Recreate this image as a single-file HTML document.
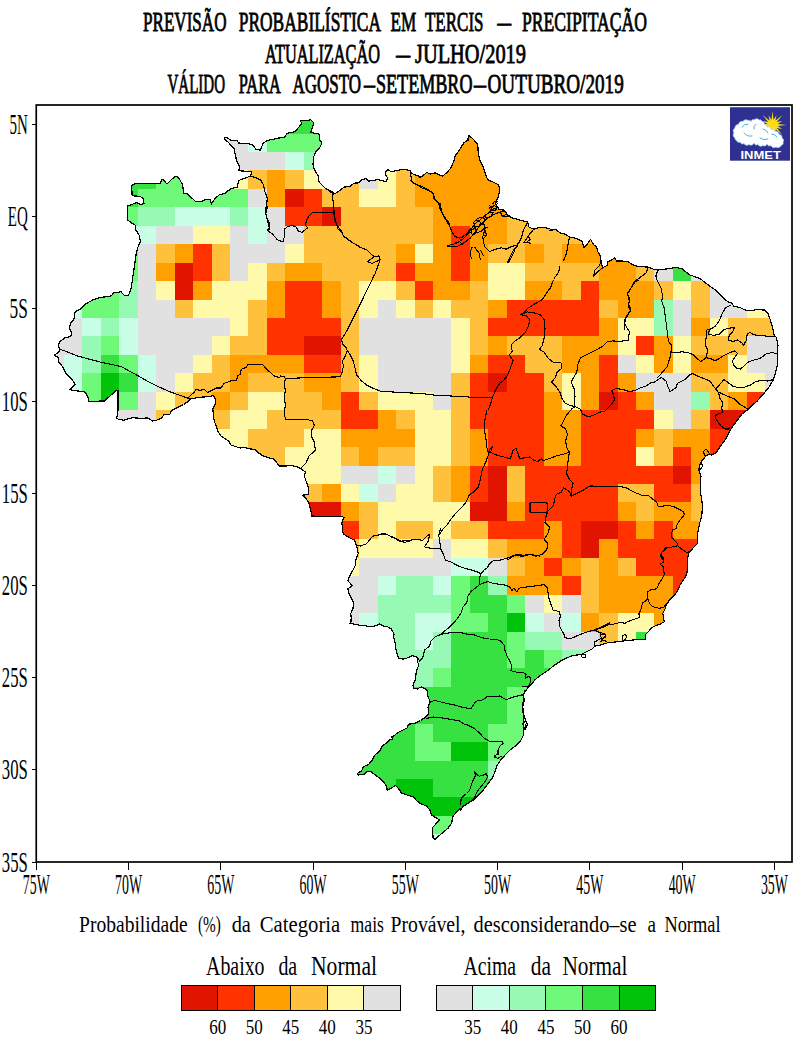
<!DOCTYPE html><html><head><meta charset="utf-8"><title>Previsão Probabilística em Tercis</title><style>html,body{margin:0;padding:0;background:#fff}</style></head><body><svg width="800" height="1046" viewBox="0 0 800 1046" style="display:block"><defs><clipPath id="br"><polygon points="118,410 118,390.2 115.8,390.8 104.5,401 88.8,401.3 88,397.2 85,392 70,389.8 75.2,384.2 72.2,380 66.2,374 62.5,366.5 58.8,362 58,357.5 54.2,355.2 58.8,352.2 60.2,349.2 58.3,346.2 59.5,341.8 64.8,338 70.8,336.5 71.5,332.8 69.2,328.2 70.8,323 73.8,319.2 75.2,311.8 81.2,308.8 85,304.2 93.2,299.8 100,297.5 111.2,296 113.5,293 121,291.8 124.8,296 128.5,295.2 130.8,290 132.2,281 134.3,267.1 136.3,253.2 138.4,245.6 140.5,241.5 139.1,235.2 135.7,229.7 135.7,225.5 132.2,223.4 127.3,219.9 127.3,206.1 132.9,204 137,202.6 141.2,204.7 144,203.3 143.3,198.4 139.8,196.4 132.2,195.7 131.5,185.3 135.7,183.6 160.6,183.6 161.3,179.7 163.4,180 166.9,183.9 175.2,176.2 178.7,177.6 182.8,185.3 183.5,193.6 187,193.6 196,201.9 202.2,201.2 206.4,199.1 210.6,199.8 211.3,204 214.7,199.1 218.9,195 224.4,193.6 230,189.4 230.5,188.8 237.2,187.2 238.8,180.5 244.8,178.2 250.8,176 251.5,171.5 238.8,170.8 239.5,166.2 236.5,160.2 235,153.5 234.2,149 228.2,142.2 224.5,139.2 224.5,137.8 227.5,137.8 230.5,140 237.2,140.8 238.8,143 248.5,143.8 252.2,144.5 256,149.3 260.5,150.2 262.8,143.8 266.5,140.8 273.2,139.2 280,137.8 284.5,137 287.5,133.2 295,131.8 301.8,123.5 300.2,120.2 306.2,120.5 310.8,119.8 313.8,122.8 312.2,128 310.8,132.5 319,134 319.8,140 322,143 319.8,147.5 316,151.2 313.8,156.5 313,164 314.5,170 318.2,176 319,182 325,188 331.8,191.8 332.5,193.2 330,191.8 332.7,191.2 333.3,194.2 336.8,192.7 340.5,190 344.2,187 349.5,186.7 354,183.2 359.2,182.8 361.5,179.5 366,178.8 368.2,181 372.8,180.7 378,179.5 382.5,180.7 386.2,181.8 387.8,177.7 385.2,175 385.5,172 387.8,169.8 391.5,171.7 396,170.8 402,169.3 406.5,169.8 410.2,170.5 411.8,173.5 415.5,175 420,176.5 420,177.8 423,175.5 426.8,172.5 430.5,174 435,172.8 438.8,174.8 442.5,176.2 447,172.5 450.8,168 453.8,161.2 455.2,156 459.8,149.2 464.2,142.5 468,140.2 468.3,135.4 471.8,137.7 475.5,141.8 477.8,144.8 478.2,153 480,160.5 483,166.5 485.2,173.2 486.8,177.8 488.2,180 493.5,182.2 498,184.5 499.5,187.5 500,190 498.5,196 495.5,203.5 499.2,209.5 504.5,210.2 507.5,214.8 512,217.8 519.5,220 527.8,222.2 528.5,226.8 533.8,229.3 539,227.5 545,227.5 551,229.3 550,230.2 556,229.5 560.5,233.2 565,234 569.5,237 574,237.8 577.8,239.2 582.2,241.5 583.8,247.5 587.5,243.8 590.5,239.2 593.5,244.5 596.5,246.8 598,252 600.2,255.8 601,261 602.5,267.8 607,265.5 607.8,261.8 612.2,259.5 614.5,258 616.8,261 622,261 628,261.8 634,265.5 640,266.7 647.5,267 653.5,269.2 658,270 664,269.2 670,268.5 670,268.8 674.5,267.2 682,268.8 689.5,274.8 700,278.5 707.5,284.5 715,289.8 721,295.8 727.8,301.8 731.5,302.5 733.8,306.2 740.5,307.8 745,310 751,310.8 756.2,309.7 764.5,310 768.2,313.8 770.5,320.5 772.8,328 774.2,335.5 776.5,337.5 778,345 777.2,354 777.7,363 775.8,372 773.5,379.5 769,387 763,394.5 757,401.2 751,406.5 748,409.5 742,414 737.5,420 733,426 729.2,432 725.5,439.5 725,440 720.5,446 716,452.8 711.5,455 708.5,454.2 705.5,456.5 701.8,461 699.5,464.8 698.8,470 701,476 700.2,482 700.2,491 701.8,500 702.5,507.5 701.8,515 699.5,524 697.7,533 697.2,539 698,540 697.2,543.8 693.5,547.5 689,552.8 687.5,558 687.5,567 686.8,574.5 683,580.5 680,585 677,591.8 674,595.5 669.5,600 666.5,604.5 665,609 662.8,613.5 663.5,618 664.2,621.8 660.5,624 656,625.5 651.5,627.8 648.5,631.5 645.5,634.5 645.5,639 641,639.8 635,639.8 627.5,640.5 621.5,641.2 615.5,642 608,642.8 610,642.2 604,643.8 600.2,645.2 595,646 592,649 586,652 581.5,654.2 577,655 571.8,655.8 566.5,658 562,660.2 557.5,663.2 553,666.2 548.5,670 544,673 539.5,676 535,679.8 532,683.5 528.2,687.2 525.2,691.8 523,695.5 523.8,700 522.2,706 523,712 523.8,718 523,724 523.8,730 523.6,730 523.5,735 520.5,741 516,745.5 510,750 505.5,754.5 501,759.8 497.2,765 495,771.8 492,778.5 487.5,784.5 483,790.5 478.5,795 474,799.5 468,803.2 463.5,806.2 460.5,810 460,808.8 456.2,812.5 452.5,817 451.8,823 448,828.2 443.5,832 439,835.8 435.2,839.5 433,838 432.7,827.5 436,823.8 439.8,820 436,817.8 431.5,814.8 430,810.2 426.2,805.8 420.2,803.5 416.5,800.5 413.5,796.8 407.5,795.2 401.5,793 398.5,788.5 395.5,785.5 391.8,787.8 387.2,790 386.5,786.2 383.5,781.8 377.5,776.5 371.5,772 367,771.2 364,774.2 358.8,775 357.2,773.5 362.5,770.5 363.2,766.8 368.5,764.5 372.2,760 375.2,754.8 379.8,751 382,746.5 386.5,742.8 389.5,739.8 392.5,739 391.8,736.8 393.5,736.2 398,732.5 402.5,730.2 407,728 408.5,724.2 414.5,723.5 420.5,720.5 425,717.5 428.8,713.8 428,707 430.2,701.8 428,696.5 427.2,690.5 424.2,688.2 421.2,686.8 417.5,689 413.8,688.2 413,685.2 415.2,680 416,674 417.5,668 419,665 417.5,662 418.2,659 416,656.8 412.2,655.7 408.5,657.5 404,659 398.8,658.7 397.2,653.8 395.8,648.5 395,642.5 393.5,636.5 394.2,634.2 391.2,629 387.5,626.8 383,626 379.2,623.8 377,625.2 372.5,626.8 366.5,626 359,625.2 353,623.8 350,623.8 350.8,623.2 351.2,618 350.8,613.5 353,608.2 353.8,603 351.5,598.5 349.2,594 347.8,588.8 352.2,585.8 347.8,580.5 350,575.2 353,570 355.2,565.5 356,559.5 358.2,553.5 357.5,549 356,544.5 354.5,540 350.8,538.5 347,536.2 343.2,534 342.5,528 341.8,522.8 344,517.5 341.8,516.3 335,516.3 327.5,516.8 320,516.3 311,516 312,515.8 310.5,509.5 309,503.5 306,498.2 302.2,495.2 308.2,494.5 308.2,487 306,481 304.5,476.5 305.2,472 301.5,469 297,466.8 291.8,465.7 285,466 279,466 276,461.5 273,458.5 268.5,457.8 262.5,455.5 258,452.5 255,449.5 249,448.8 244.5,447.2 240,448 235.5,446.5 231,445 228.8,441.2 230,442 225.5,439 221,436 218,431.5 216.5,427 214.2,421 213.5,415 212.8,409 215,404.5 215.8,400 213.5,395.5 209,396.7 203,397 197,397.8 191,398.8 188,401.5 183.5,404.5 177.5,407.5 171.5,410.5 170,414.2 164,414.2 161.8,418 156.5,420.2 152.8,421 147.5,418 140,418.3 132.5,417.7 128,418.8 123.5,420.2 118.2,419.2 116.8,418"/></clipPath></defs><rect width="800" height="1046" fill="#fff"/><g clip-path="url(#br)" shape-rendering="crispEdges"><rect x="248" y="78" width="111" height="19" fill="#37e141"/><rect x="193" y="97" width="55" height="18" fill="#e1e1e1"/><rect x="248" y="97" width="111" height="18" fill="#37e141"/><rect x="415" y="97" width="110" height="18" fill="#ffa000"/><rect x="193" y="115" width="55" height="19" fill="#e1e1e1"/><rect x="248" y="115" width="19" height="19" fill="#c8ffe6"/><rect x="267" y="115" width="92" height="19" fill="#37e141"/><rect x="359" y="115" width="56" height="19" fill="#ffc03c"/><rect x="415" y="115" width="110" height="19" fill="#ffa000"/><rect x="82" y="134" width="74" height="18" fill="#37e141"/><rect x="156" y="134" width="37" height="18" fill="#6efa78"/><rect x="193" y="134" width="55" height="18" fill="#e1e1e1"/><rect x="248" y="134" width="19" height="18" fill="#c8ffe6"/><rect x="267" y="134" width="92" height="18" fill="#6efa78"/><rect x="359" y="134" width="74" height="18" fill="#ffc03c"/><rect x="433" y="134" width="111" height="18" fill="#ffa000"/><rect x="82" y="152" width="74" height="18" fill="#37e141"/><rect x="156" y="152" width="56" height="18" fill="#6efa78"/><rect x="212" y="152" width="73" height="18" fill="#e1e1e1"/><rect x="285" y="152" width="19" height="18" fill="#c8ffe6"/><rect x="304" y="152" width="37" height="18" fill="#96fab4"/><rect x="341" y="152" width="18" height="18" fill="#ffc03c"/><rect x="359" y="152" width="19" height="18" fill="#e1e1e1"/><rect x="378" y="152" width="55" height="18" fill="#ffc03c"/><rect x="433" y="152" width="111" height="18" fill="#ffa000"/><rect x="82" y="170" width="74" height="19" fill="#37e141"/><rect x="156" y="170" width="74" height="19" fill="#6efa78"/><rect x="230" y="170" width="18" height="19" fill="#fffaaa"/><rect x="248" y="170" width="19" height="19" fill="#ffc03c"/><rect x="267" y="170" width="18" height="19" fill="#ffa000"/><rect x="285" y="170" width="19" height="19" fill="#ffc03c"/><rect x="304" y="170" width="37" height="19" fill="#fffaaa"/><rect x="341" y="170" width="18" height="19" fill="#ffc03c"/><rect x="359" y="170" width="19" height="19" fill="#e1e1e1"/><rect x="378" y="170" width="18" height="19" fill="#fffaaa"/><rect x="396" y="170" width="19" height="19" fill="#ffc03c"/><rect x="415" y="170" width="129" height="19" fill="#ffa000"/><rect x="544" y="170" width="18" height="19" fill="#ffc03c"/><rect x="82" y="189" width="56" height="18" fill="#37e141"/><rect x="138" y="189" width="110" height="18" fill="#6efa78"/><rect x="248" y="189" width="19" height="18" fill="#e1e1e1"/><rect x="267" y="189" width="18" height="18" fill="#ffa000"/><rect x="285" y="189" width="19" height="18" fill="#e11400"/><rect x="304" y="189" width="18" height="18" fill="#ff3200"/><rect x="322" y="189" width="37" height="18" fill="#ffc03c"/><rect x="359" y="189" width="37" height="18" fill="#fffaaa"/><rect x="396" y="189" width="19" height="18" fill="#ffc03c"/><rect x="415" y="189" width="110" height="18" fill="#ffa000"/><rect x="525" y="189" width="93" height="18" fill="#ffc03c"/><rect x="82" y="207" width="56" height="19" fill="#6efa78"/><rect x="138" y="207" width="37" height="19" fill="#96fab4"/><rect x="175" y="207" width="55" height="19" fill="#c8ffe6"/><rect x="230" y="207" width="18" height="19" fill="#96fab4"/><rect x="248" y="207" width="19" height="19" fill="#c8ffe6"/><rect x="267" y="207" width="18" height="19" fill="#e1e1e1"/><rect x="285" y="207" width="37" height="19" fill="#ff3200"/><rect x="322" y="207" width="19" height="19" fill="#e11400"/><rect x="341" y="207" width="92" height="19" fill="#ffc03c"/><rect x="433" y="207" width="74" height="19" fill="#ffa000"/><rect x="507" y="207" width="111" height="19" fill="#ffc03c"/><rect x="618" y="207" width="36" height="19" fill="#ffa000"/><rect x="82" y="226" width="74" height="18" fill="#c8ffe6"/><rect x="156" y="226" width="37" height="18" fill="#e1e1e1"/><rect x="193" y="226" width="37" height="18" fill="#fffaaa"/><rect x="230" y="226" width="18" height="18" fill="#e1e1e1"/><rect x="248" y="226" width="19" height="18" fill="#c8ffe6"/><rect x="267" y="226" width="37" height="18" fill="#e1e1e1"/><rect x="304" y="226" width="129" height="18" fill="#ffc03c"/><rect x="433" y="226" width="18" height="18" fill="#ffa000"/><rect x="451" y="226" width="19" height="18" fill="#ff3200"/><rect x="470" y="226" width="37" height="18" fill="#ffa000"/><rect x="507" y="226" width="92" height="18" fill="#ffc03c"/><rect x="599" y="226" width="55" height="18" fill="#ffa000"/><rect x="654" y="226" width="19" height="18" fill="#e1e1e1"/><rect x="673" y="226" width="18" height="18" fill="#37e141"/><rect x="691" y="226" width="56" height="18" fill="#e1e1e1"/><rect x="45" y="244" width="93" height="19" fill="#6efa78"/><rect x="138" y="244" width="18" height="19" fill="#e1e1e1"/><rect x="156" y="244" width="19" height="19" fill="#ffc03c"/><rect x="175" y="244" width="18" height="19" fill="#ffa000"/><rect x="193" y="244" width="19" height="19" fill="#ff3200"/><rect x="212" y="244" width="18" height="19" fill="#ffc03c"/><rect x="230" y="244" width="55" height="19" fill="#e1e1e1"/><rect x="285" y="244" width="19" height="19" fill="#fffaaa"/><rect x="304" y="244" width="92" height="19" fill="#ffc03c"/><rect x="396" y="244" width="19" height="19" fill="#ffa000"/><rect x="415" y="244" width="18" height="19" fill="#fffaaa"/><rect x="433" y="244" width="18" height="19" fill="#ffa000"/><rect x="451" y="244" width="19" height="19" fill="#ff3200"/><rect x="470" y="244" width="18" height="19" fill="#ffa000"/><rect x="488" y="244" width="37" height="19" fill="#ffc03c"/><rect x="525" y="244" width="19" height="19" fill="#ffa000"/><rect x="544" y="244" width="18" height="19" fill="#ffc03c"/><rect x="562" y="244" width="74" height="19" fill="#ffa000"/><rect x="636" y="244" width="18" height="19" fill="#ffc03c"/><rect x="654" y="244" width="19" height="19" fill="#e1e1e1"/><rect x="673" y="244" width="18" height="19" fill="#37e141"/><rect x="691" y="244" width="74" height="19" fill="#e1e1e1"/><rect x="27" y="263" width="18" height="18" fill="#c8ffe6"/><rect x="45" y="263" width="93" height="18" fill="#6efa78"/><rect x="138" y="263" width="18" height="18" fill="#e1e1e1"/><rect x="156" y="263" width="19" height="18" fill="#ffa000"/><rect x="175" y="263" width="18" height="18" fill="#e11400"/><rect x="193" y="263" width="19" height="18" fill="#ff3200"/><rect x="212" y="263" width="18" height="18" fill="#ffc03c"/><rect x="230" y="263" width="18" height="18" fill="#e1e1e1"/><rect x="248" y="263" width="19" height="18" fill="#fffaaa"/><rect x="267" y="263" width="18" height="18" fill="#ffc03c"/><rect x="285" y="263" width="37" height="18" fill="#ffa000"/><rect x="322" y="263" width="74" height="18" fill="#ffc03c"/><rect x="396" y="263" width="19" height="18" fill="#ff3200"/><rect x="415" y="263" width="36" height="18" fill="#ffa000"/><rect x="451" y="263" width="19" height="18" fill="#ff3200"/><rect x="470" y="263" width="18" height="18" fill="#ffa000"/><rect x="488" y="263" width="37" height="18" fill="#fffaaa"/><rect x="525" y="263" width="74" height="18" fill="#ffc03c"/><rect x="599" y="263" width="37" height="18" fill="#ffa000"/><rect x="636" y="263" width="18" height="18" fill="#ffc03c"/><rect x="654" y="263" width="19" height="18" fill="#e1e1e1"/><rect x="673" y="263" width="18" height="18" fill="#37e141"/><rect x="691" y="263" width="74" height="18" fill="#e1e1e1"/><rect x="765" y="263" width="56" height="18" fill="#fffaaa"/><rect x="27" y="281" width="37" height="19" fill="#c8ffe6"/><rect x="64" y="281" width="55" height="19" fill="#6efa78"/><rect x="119" y="281" width="19" height="19" fill="#96fab4"/><rect x="138" y="281" width="18" height="19" fill="#e1e1e1"/><rect x="156" y="281" width="19" height="19" fill="#fffaaa"/><rect x="175" y="281" width="18" height="19" fill="#e11400"/><rect x="193" y="281" width="19" height="19" fill="#ffa000"/><rect x="212" y="281" width="55" height="19" fill="#fffaaa"/><rect x="267" y="281" width="18" height="19" fill="#ffa000"/><rect x="285" y="281" width="37" height="19" fill="#ff3200"/><rect x="322" y="281" width="19" height="19" fill="#ffa000"/><rect x="341" y="281" width="18" height="19" fill="#ffc03c"/><rect x="359" y="281" width="37" height="19" fill="#fffaaa"/><rect x="396" y="281" width="19" height="19" fill="#ffc03c"/><rect x="415" y="281" width="18" height="19" fill="#ff3200"/><rect x="433" y="281" width="37" height="19" fill="#ffa000"/><rect x="470" y="281" width="18" height="19" fill="#ffc03c"/><rect x="488" y="281" width="37" height="19" fill="#fffaaa"/><rect x="525" y="281" width="37" height="19" fill="#ffa000"/><rect x="562" y="281" width="19" height="19" fill="#ffc03c"/><rect x="581" y="281" width="18" height="19" fill="#ff3200"/><rect x="599" y="281" width="55" height="19" fill="#ffa000"/><rect x="654" y="281" width="19" height="19" fill="#ffc03c"/><rect x="673" y="281" width="18" height="19" fill="#fffaaa"/><rect x="691" y="281" width="19" height="19" fill="#ffc03c"/><rect x="710" y="281" width="37" height="19" fill="#e1e1e1"/><rect x="747" y="281" width="74" height="19" fill="#fffaaa"/><rect x="9" y="300" width="18" height="18" fill="#e1e1e1"/><rect x="27" y="300" width="55" height="18" fill="#c8ffe6"/><rect x="82" y="300" width="37" height="18" fill="#6efa78"/><rect x="119" y="300" width="19" height="18" fill="#96fab4"/><rect x="138" y="300" width="37" height="18" fill="#e1e1e1"/><rect x="175" y="300" width="18" height="18" fill="#ffc03c"/><rect x="193" y="300" width="55" height="18" fill="#fffaaa"/><rect x="248" y="300" width="19" height="18" fill="#ffc03c"/><rect x="267" y="300" width="18" height="18" fill="#ffa000"/><rect x="285" y="300" width="37" height="18" fill="#ff3200"/><rect x="322" y="300" width="19" height="18" fill="#ffa000"/><rect x="341" y="300" width="18" height="18" fill="#ffc03c"/><rect x="359" y="300" width="19" height="18" fill="#fffaaa"/><rect x="378" y="300" width="18" height="18" fill="#e1e1e1"/><rect x="396" y="300" width="19" height="18" fill="#fffaaa"/><rect x="415" y="300" width="18" height="18" fill="#ffc03c"/><rect x="433" y="300" width="18" height="18" fill="#fffaaa"/><rect x="451" y="300" width="37" height="18" fill="#ffc03c"/><rect x="488" y="300" width="19" height="18" fill="#ffa000"/><rect x="507" y="300" width="92" height="18" fill="#ff3200"/><rect x="599" y="300" width="19" height="18" fill="#ffc03c"/><rect x="618" y="300" width="36" height="18" fill="#ffa000"/><rect x="654" y="300" width="19" height="18" fill="#96fab4"/><rect x="673" y="300" width="18" height="18" fill="#e1e1e1"/><rect x="691" y="300" width="19" height="18" fill="#ffc03c"/><rect x="710" y="300" width="37" height="18" fill="#e1e1e1"/><rect x="747" y="300" width="74" height="18" fill="#fffaaa"/><rect x="9" y="318" width="73" height="18" fill="#e1e1e1"/><rect x="82" y="318" width="19" height="18" fill="#c8ffe6"/><rect x="101" y="318" width="18" height="18" fill="#96fab4"/><rect x="119" y="318" width="19" height="18" fill="#c8ffe6"/><rect x="138" y="318" width="92" height="18" fill="#e1e1e1"/><rect x="230" y="318" width="18" height="18" fill="#fffaaa"/><rect x="248" y="318" width="19" height="18" fill="#ffc03c"/><rect x="267" y="318" width="74" height="18" fill="#ff3200"/><rect x="341" y="318" width="18" height="18" fill="#ffc03c"/><rect x="359" y="318" width="92" height="18" fill="#e1e1e1"/><rect x="451" y="318" width="19" height="18" fill="#fffaaa"/><rect x="470" y="318" width="18" height="18" fill="#ffc03c"/><rect x="488" y="318" width="111" height="18" fill="#ff3200"/><rect x="599" y="318" width="19" height="18" fill="#ffa000"/><rect x="618" y="318" width="36" height="18" fill="#fffaaa"/><rect x="654" y="318" width="19" height="18" fill="#96fab4"/><rect x="673" y="318" width="18" height="18" fill="#e1e1e1"/><rect x="691" y="318" width="19" height="18" fill="#ffa000"/><rect x="710" y="318" width="18" height="18" fill="#fffaaa"/><rect x="728" y="318" width="93" height="18" fill="#ffc03c"/><rect x="9" y="336" width="73" height="19" fill="#e1e1e1"/><rect x="82" y="336" width="19" height="19" fill="#96fab4"/><rect x="101" y="336" width="18" height="19" fill="#6efa78"/><rect x="119" y="336" width="19" height="19" fill="#c8ffe6"/><rect x="138" y="336" width="74" height="19" fill="#e1e1e1"/><rect x="212" y="336" width="18" height="19" fill="#fffaaa"/><rect x="230" y="336" width="37" height="19" fill="#ffc03c"/><rect x="267" y="336" width="37" height="19" fill="#ff3200"/><rect x="304" y="336" width="37" height="19" fill="#e11400"/><rect x="341" y="336" width="18" height="19" fill="#ffc03c"/><rect x="359" y="336" width="92" height="19" fill="#e1e1e1"/><rect x="451" y="336" width="19" height="19" fill="#fffaaa"/><rect x="470" y="336" width="18" height="19" fill="#ffc03c"/><rect x="488" y="336" width="19" height="19" fill="#ffa000"/><rect x="507" y="336" width="55" height="19" fill="#ffc03c"/><rect x="562" y="336" width="56" height="19" fill="#ffa000"/><rect x="618" y="336" width="18" height="19" fill="#fffaaa"/><rect x="636" y="336" width="18" height="19" fill="#ff3200"/><rect x="654" y="336" width="19" height="19" fill="#ffa000"/><rect x="673" y="336" width="18" height="19" fill="#fffaaa"/><rect x="691" y="336" width="56" height="19" fill="#ffc03c"/><rect x="747" y="336" width="74" height="19" fill="#e1e1e1"/><rect x="9" y="355" width="55" height="18" fill="#e1e1e1"/><rect x="64" y="355" width="18" height="18" fill="#c8ffe6"/><rect x="82" y="355" width="19" height="18" fill="#96fab4"/><rect x="101" y="355" width="18" height="18" fill="#37e141"/><rect x="119" y="355" width="19" height="18" fill="#6efa78"/><rect x="138" y="355" width="18" height="18" fill="#c8ffe6"/><rect x="156" y="355" width="37" height="18" fill="#e1e1e1"/><rect x="193" y="355" width="19" height="18" fill="#fffaaa"/><rect x="212" y="355" width="18" height="18" fill="#ffc03c"/><rect x="230" y="355" width="74" height="18" fill="#ffa000"/><rect x="304" y="355" width="37" height="18" fill="#ff3200"/><rect x="341" y="355" width="18" height="18" fill="#ffc03c"/><rect x="359" y="355" width="19" height="18" fill="#fffaaa"/><rect x="378" y="355" width="73" height="18" fill="#e1e1e1"/><rect x="451" y="355" width="19" height="18" fill="#fffaaa"/><rect x="470" y="355" width="18" height="18" fill="#ffa000"/><rect x="488" y="355" width="37" height="18" fill="#ff3200"/><rect x="525" y="355" width="37" height="18" fill="#ffc03c"/><rect x="562" y="355" width="37" height="18" fill="#ffa000"/><rect x="599" y="355" width="19" height="18" fill="#ff3200"/><rect x="618" y="355" width="18" height="18" fill="#e1e1e1"/><rect x="636" y="355" width="18" height="18" fill="#fffaaa"/><rect x="654" y="355" width="19" height="18" fill="#ffa000"/><rect x="673" y="355" width="18" height="18" fill="#fffaaa"/><rect x="691" y="355" width="37" height="18" fill="#ffa000"/><rect x="728" y="355" width="19" height="18" fill="#fffaaa"/><rect x="747" y="355" width="74" height="18" fill="#e1e1e1"/><rect x="9" y="373" width="36" height="19" fill="#e1e1e1"/><rect x="45" y="373" width="37" height="19" fill="#c8ffe6"/><rect x="82" y="373" width="19" height="19" fill="#6efa78"/><rect x="101" y="373" width="18" height="19" fill="#00c30a"/><rect x="119" y="373" width="19" height="19" fill="#37e141"/><rect x="138" y="373" width="18" height="19" fill="#c8ffe6"/><rect x="156" y="373" width="19" height="19" fill="#e1e1e1"/><rect x="175" y="373" width="18" height="19" fill="#fffaaa"/><rect x="193" y="373" width="37" height="19" fill="#ffc03c"/><rect x="230" y="373" width="18" height="19" fill="#ffa000"/><rect x="248" y="373" width="56" height="19" fill="#ffc03c"/><rect x="304" y="373" width="37" height="19" fill="#ffa000"/><rect x="341" y="373" width="18" height="19" fill="#ffc03c"/><rect x="359" y="373" width="19" height="19" fill="#fffaaa"/><rect x="378" y="373" width="73" height="19" fill="#e1e1e1"/><rect x="451" y="373" width="19" height="19" fill="#ffc03c"/><rect x="470" y="373" width="18" height="19" fill="#ff3200"/><rect x="488" y="373" width="19" height="19" fill="#e11400"/><rect x="507" y="373" width="37" height="19" fill="#ff3200"/><rect x="544" y="373" width="18" height="19" fill="#ffc03c"/><rect x="562" y="373" width="19" height="19" fill="#fffaaa"/><rect x="581" y="373" width="18" height="19" fill="#ffa000"/><rect x="599" y="373" width="19" height="19" fill="#ff3200"/><rect x="618" y="373" width="18" height="19" fill="#ffa000"/><rect x="636" y="373" width="55" height="19" fill="#e1e1e1"/><rect x="691" y="373" width="37" height="19" fill="#ffc03c"/><rect x="728" y="373" width="37" height="19" fill="#fffaaa"/><rect x="765" y="373" width="56" height="19" fill="#e1e1e1"/><rect x="9" y="392" width="18" height="18" fill="#e1e1e1"/><rect x="27" y="392" width="37" height="18" fill="#c8ffe6"/><rect x="64" y="392" width="37" height="18" fill="#6efa78"/><rect x="101" y="392" width="18" height="18" fill="#00c30a"/><rect x="119" y="392" width="19" height="18" fill="#6efa78"/><rect x="138" y="392" width="18" height="18" fill="#e1e1e1"/><rect x="156" y="392" width="19" height="18" fill="#fffaaa"/><rect x="175" y="392" width="37" height="18" fill="#ffc03c"/><rect x="212" y="392" width="18" height="18" fill="#ffa000"/><rect x="230" y="392" width="18" height="18" fill="#ffc03c"/><rect x="248" y="392" width="37" height="18" fill="#fffaaa"/><rect x="285" y="392" width="37" height="18" fill="#ffc03c"/><rect x="322" y="392" width="19" height="18" fill="#ffa000"/><rect x="341" y="392" width="18" height="18" fill="#ff3200"/><rect x="359" y="392" width="19" height="18" fill="#ffc03c"/><rect x="378" y="392" width="55" height="18" fill="#fffaaa"/><rect x="433" y="392" width="18" height="18" fill="#e1e1e1"/><rect x="451" y="392" width="19" height="18" fill="#ffc03c"/><rect x="470" y="392" width="74" height="18" fill="#ff3200"/><rect x="544" y="392" width="18" height="18" fill="#ffa000"/><rect x="562" y="392" width="19" height="18" fill="#fffaaa"/><rect x="581" y="392" width="18" height="18" fill="#ffa000"/><rect x="599" y="392" width="19" height="18" fill="#e11400"/><rect x="618" y="392" width="18" height="18" fill="#ff3200"/><rect x="636" y="392" width="18" height="18" fill="#ffa000"/><rect x="654" y="392" width="37" height="18" fill="#e1e1e1"/><rect x="691" y="392" width="19" height="18" fill="#96fab4"/><rect x="710" y="392" width="18" height="18" fill="#ffc03c"/><rect x="728" y="392" width="19" height="18" fill="#ffa000"/><rect x="747" y="392" width="37" height="18" fill="#ff3200"/><rect x="784" y="392" width="37" height="18" fill="#e1e1e1"/><rect x="27" y="410" width="18" height="19" fill="#c8ffe6"/><rect x="45" y="410" width="56" height="19" fill="#6efa78"/><rect x="101" y="410" width="55" height="19" fill="#e1e1e1"/><rect x="156" y="410" width="74" height="19" fill="#ffc03c"/><rect x="230" y="410" width="37" height="19" fill="#fffaaa"/><rect x="267" y="410" width="74" height="19" fill="#ffc03c"/><rect x="341" y="410" width="37" height="19" fill="#ff3200"/><rect x="378" y="410" width="18" height="19" fill="#ffa000"/><rect x="396" y="410" width="19" height="19" fill="#ffc03c"/><rect x="415" y="410" width="36" height="19" fill="#fffaaa"/><rect x="451" y="410" width="19" height="19" fill="#ffc03c"/><rect x="470" y="410" width="74" height="19" fill="#ff3200"/><rect x="544" y="410" width="37" height="19" fill="#ffa000"/><rect x="581" y="410" width="73" height="19" fill="#ff3200"/><rect x="654" y="410" width="19" height="19" fill="#fffaaa"/><rect x="673" y="410" width="18" height="19" fill="#e1e1e1"/><rect x="691" y="410" width="19" height="19" fill="#ffc03c"/><rect x="710" y="410" width="55" height="19" fill="#e11400"/><rect x="765" y="410" width="37" height="19" fill="#ff3200"/><rect x="802" y="410" width="19" height="19" fill="#e1e1e1"/><rect x="45" y="429" width="37" height="18" fill="#6efa78"/><rect x="82" y="429" width="74" height="18" fill="#e1e1e1"/><rect x="156" y="429" width="37" height="18" fill="#ffc03c"/><rect x="193" y="429" width="55" height="18" fill="#fffaaa"/><rect x="248" y="429" width="56" height="18" fill="#ffc03c"/><rect x="304" y="429" width="37" height="18" fill="#fffaaa"/><rect x="341" y="429" width="74" height="18" fill="#ffa000"/><rect x="415" y="429" width="36" height="18" fill="#fffaaa"/><rect x="451" y="429" width="19" height="18" fill="#ffc03c"/><rect x="470" y="429" width="18" height="18" fill="#ffa000"/><rect x="488" y="429" width="56" height="18" fill="#ff3200"/><rect x="544" y="429" width="37" height="18" fill="#ffa000"/><rect x="581" y="429" width="55" height="18" fill="#ff3200"/><rect x="636" y="429" width="18" height="18" fill="#ffa000"/><rect x="654" y="429" width="19" height="18" fill="#ffc03c"/><rect x="673" y="429" width="37" height="18" fill="#ffa000"/><rect x="710" y="429" width="37" height="18" fill="#ff3200"/><rect x="747" y="429" width="37" height="18" fill="#e11400"/><rect x="784" y="429" width="18" height="18" fill="#ff3200"/><rect x="82" y="447" width="74" height="19" fill="#e1e1e1"/><rect x="156" y="447" width="19" height="19" fill="#ffc03c"/><rect x="175" y="447" width="55" height="19" fill="#fffaaa"/><rect x="230" y="447" width="55" height="19" fill="#ffc03c"/><rect x="285" y="447" width="56" height="19" fill="#fffaaa"/><rect x="341" y="447" width="18" height="19" fill="#ffc03c"/><rect x="359" y="447" width="19" height="19" fill="#ffa000"/><rect x="378" y="447" width="37" height="19" fill="#ffc03c"/><rect x="415" y="447" width="36" height="19" fill="#fffaaa"/><rect x="451" y="447" width="19" height="19" fill="#ffc03c"/><rect x="470" y="447" width="18" height="19" fill="#ffa000"/><rect x="488" y="447" width="56" height="19" fill="#ff3200"/><rect x="544" y="447" width="37" height="19" fill="#ffa000"/><rect x="581" y="447" width="55" height="19" fill="#ff3200"/><rect x="636" y="447" width="18" height="19" fill="#fffaaa"/><rect x="654" y="447" width="19" height="19" fill="#ffc03c"/><rect x="673" y="447" width="18" height="19" fill="#ff3200"/><rect x="691" y="447" width="19" height="19" fill="#ffa000"/><rect x="710" y="447" width="55" height="19" fill="#ff3200"/><rect x="765" y="447" width="19" height="19" fill="#e11400"/><rect x="175" y="466" width="37" height="18" fill="#fffaaa"/><rect x="212" y="466" width="55" height="18" fill="#ffc03c"/><rect x="267" y="466" width="74" height="18" fill="#fffaaa"/><rect x="341" y="466" width="37" height="18" fill="#e1e1e1"/><rect x="378" y="466" width="18" height="18" fill="#c8ffe6"/><rect x="396" y="466" width="19" height="18" fill="#e1e1e1"/><rect x="415" y="466" width="18" height="18" fill="#fffaaa"/><rect x="433" y="466" width="18" height="18" fill="#ffc03c"/><rect x="451" y="466" width="19" height="18" fill="#ffa000"/><rect x="470" y="466" width="18" height="18" fill="#ff3200"/><rect x="488" y="466" width="19" height="18" fill="#e11400"/><rect x="507" y="466" width="18" height="18" fill="#ffc03c"/><rect x="525" y="466" width="148" height="18" fill="#ff3200"/><rect x="673" y="466" width="18" height="18" fill="#e11400"/><rect x="691" y="466" width="37" height="18" fill="#ffa000"/><rect x="728" y="466" width="37" height="18" fill="#ff3200"/><rect x="212" y="484" width="36" height="18" fill="#ffc03c"/><rect x="248" y="484" width="37" height="18" fill="#fffaaa"/><rect x="285" y="484" width="37" height="18" fill="#ffc03c"/><rect x="322" y="484" width="19" height="18" fill="#ffa000"/><rect x="341" y="484" width="18" height="18" fill="#fffaaa"/><rect x="359" y="484" width="19" height="18" fill="#c8ffe6"/><rect x="378" y="484" width="18" height="18" fill="#e1e1e1"/><rect x="396" y="484" width="37" height="18" fill="#fffaaa"/><rect x="433" y="484" width="18" height="18" fill="#ffc03c"/><rect x="451" y="484" width="19" height="18" fill="#ffa000"/><rect x="470" y="484" width="18" height="18" fill="#ff3200"/><rect x="488" y="484" width="19" height="18" fill="#e11400"/><rect x="507" y="484" width="18" height="18" fill="#ffc03c"/><rect x="525" y="484" width="93" height="18" fill="#ff3200"/><rect x="618" y="484" width="36" height="18" fill="#ffc03c"/><rect x="654" y="484" width="37" height="18" fill="#ff3200"/><rect x="691" y="484" width="56" height="18" fill="#ffc03c"/><rect x="747" y="484" width="18" height="18" fill="#ff3200"/><rect x="248" y="502" width="19" height="19" fill="#fffaaa"/><rect x="267" y="502" width="74" height="19" fill="#e11400"/><rect x="341" y="502" width="18" height="19" fill="#ffa000"/><rect x="359" y="502" width="19" height="19" fill="#ffc03c"/><rect x="378" y="502" width="92" height="19" fill="#fffaaa"/><rect x="470" y="502" width="37" height="19" fill="#e11400"/><rect x="507" y="502" width="18" height="19" fill="#ffa000"/><rect x="525" y="502" width="93" height="19" fill="#ff3200"/><rect x="618" y="502" width="18" height="19" fill="#ffa000"/><rect x="636" y="502" width="18" height="19" fill="#ffc03c"/><rect x="654" y="502" width="37" height="19" fill="#ffa000"/><rect x="691" y="502" width="56" height="19" fill="#ffc03c"/><rect x="267" y="521" width="55" height="18" fill="#e11400"/><rect x="322" y="521" width="37" height="18" fill="#ff3200"/><rect x="359" y="521" width="19" height="18" fill="#ffc03c"/><rect x="378" y="521" width="18" height="18" fill="#fffaaa"/><rect x="396" y="521" width="37" height="18" fill="#ffc03c"/><rect x="433" y="521" width="18" height="18" fill="#fffaaa"/><rect x="451" y="521" width="37" height="18" fill="#ffc03c"/><rect x="488" y="521" width="56" height="18" fill="#ff3200"/><rect x="544" y="521" width="18" height="18" fill="#ffa000"/><rect x="562" y="521" width="19" height="18" fill="#ff3200"/><rect x="581" y="521" width="37" height="18" fill="#e11400"/><rect x="618" y="521" width="18" height="18" fill="#ff3200"/><rect x="636" y="521" width="18" height="18" fill="#ffa000"/><rect x="654" y="521" width="19" height="18" fill="#ff3200"/><rect x="673" y="521" width="74" height="18" fill="#ffa000"/><rect x="267" y="539" width="37" height="19" fill="#e11400"/><rect x="304" y="539" width="55" height="19" fill="#ffc03c"/><rect x="359" y="539" width="74" height="19" fill="#fffaaa"/><rect x="433" y="539" width="18" height="19" fill="#e1e1e1"/><rect x="451" y="539" width="37" height="19" fill="#fffaaa"/><rect x="488" y="539" width="19" height="19" fill="#ffc03c"/><rect x="507" y="539" width="55" height="19" fill="#ffa000"/><rect x="562" y="539" width="19" height="19" fill="#ff3200"/><rect x="581" y="539" width="18" height="19" fill="#e11400"/><rect x="599" y="539" width="19" height="19" fill="#ffa000"/><rect x="618" y="539" width="129" height="19" fill="#ff3200"/><rect x="304" y="558" width="55" height="18" fill="#fffaaa"/><rect x="359" y="558" width="92" height="18" fill="#e1e1e1"/><rect x="451" y="558" width="37" height="18" fill="#c8ffe6"/><rect x="488" y="558" width="19" height="18" fill="#e1e1e1"/><rect x="507" y="558" width="18" height="18" fill="#ffc03c"/><rect x="525" y="558" width="19" height="18" fill="#ffa000"/><rect x="544" y="558" width="18" height="18" fill="#ff3200"/><rect x="562" y="558" width="19" height="18" fill="#ffa000"/><rect x="581" y="558" width="18" height="18" fill="#ffc03c"/><rect x="599" y="558" width="19" height="18" fill="#ffa000"/><rect x="618" y="558" width="18" height="18" fill="#ffc03c"/><rect x="636" y="558" width="111" height="18" fill="#ff3200"/><rect x="304" y="576" width="74" height="19" fill="#e1e1e1"/><rect x="378" y="576" width="18" height="19" fill="#c8ffe6"/><rect x="396" y="576" width="37" height="19" fill="#96fab4"/><rect x="433" y="576" width="18" height="19" fill="#c8ffe6"/><rect x="451" y="576" width="19" height="19" fill="#6efa78"/><rect x="470" y="576" width="18" height="19" fill="#37e141"/><rect x="488" y="576" width="19" height="19" fill="#96fab4"/><rect x="507" y="576" width="55" height="19" fill="#ffa000"/><rect x="562" y="576" width="19" height="19" fill="#ff3200"/><rect x="581" y="576" width="18" height="19" fill="#ffc03c"/><rect x="599" y="576" width="74" height="19" fill="#ffa000"/><rect x="673" y="576" width="74" height="19" fill="#ff3200"/><rect x="304" y="595" width="74" height="18" fill="#e1e1e1"/><rect x="378" y="595" width="73" height="18" fill="#96fab4"/><rect x="451" y="595" width="19" height="18" fill="#6efa78"/><rect x="470" y="595" width="37" height="18" fill="#37e141"/><rect x="507" y="595" width="18" height="18" fill="#6efa78"/><rect x="525" y="595" width="19" height="18" fill="#e1e1e1"/><rect x="544" y="595" width="18" height="18" fill="#fffaaa"/><rect x="562" y="595" width="19" height="18" fill="#e1e1e1"/><rect x="581" y="595" width="18" height="18" fill="#ffc03c"/><rect x="599" y="595" width="92" height="18" fill="#ffa000"/><rect x="691" y="595" width="37" height="18" fill="#ff3200"/><rect x="304" y="613" width="55" height="19" fill="#e1e1e1"/><rect x="359" y="613" width="19" height="19" fill="#c8ffe6"/><rect x="378" y="613" width="37" height="19" fill="#96fab4"/><rect x="415" y="613" width="36" height="19" fill="#c8ffe6"/><rect x="451" y="613" width="37" height="19" fill="#6efa78"/><rect x="488" y="613" width="19" height="19" fill="#37e141"/><rect x="507" y="613" width="18" height="19" fill="#00c30a"/><rect x="525" y="613" width="19" height="19" fill="#c8ffe6"/><rect x="544" y="613" width="18" height="19" fill="#e1e1e1"/><rect x="562" y="613" width="19" height="19" fill="#c8ffe6"/><rect x="581" y="613" width="18" height="19" fill="#ffa000"/><rect x="599" y="613" width="19" height="19" fill="#ffc03c"/><rect x="618" y="613" width="36" height="19" fill="#fffaaa"/><rect x="654" y="613" width="56" height="19" fill="#ffa000"/><rect x="710" y="613" width="18" height="19" fill="#ff3200"/><rect x="304" y="632" width="55" height="18" fill="#e1e1e1"/><rect x="359" y="632" width="56" height="18" fill="#96fab4"/><rect x="415" y="632" width="18" height="18" fill="#c8ffe6"/><rect x="433" y="632" width="18" height="18" fill="#96fab4"/><rect x="451" y="632" width="56" height="18" fill="#37e141"/><rect x="507" y="632" width="18" height="18" fill="#6efa78"/><rect x="525" y="632" width="37" height="18" fill="#96fab4"/><rect x="562" y="632" width="37" height="18" fill="#e1e1e1"/><rect x="599" y="632" width="19" height="18" fill="#ffc03c"/><rect x="618" y="632" width="18" height="18" fill="#fffaaa"/><rect x="636" y="632" width="37" height="18" fill="#37e141"/><rect x="673" y="632" width="37" height="18" fill="#ffa000"/><rect x="304" y="650" width="37" height="18" fill="#e1e1e1"/><rect x="341" y="650" width="110" height="18" fill="#96fab4"/><rect x="451" y="650" width="56" height="18" fill="#37e141"/><rect x="507" y="650" width="18" height="18" fill="#6efa78"/><rect x="525" y="650" width="19" height="18" fill="#37e141"/><rect x="544" y="650" width="18" height="18" fill="#6efa78"/><rect x="562" y="650" width="37" height="18" fill="#96fab4"/><rect x="599" y="650" width="19" height="18" fill="#ffc03c"/><rect x="618" y="650" width="18" height="18" fill="#fffaaa"/><rect x="636" y="650" width="55" height="18" fill="#37e141"/><rect x="691" y="650" width="19" height="18" fill="#ffa000"/><rect x="341" y="668" width="92" height="19" fill="#96fab4"/><rect x="433" y="668" width="18" height="19" fill="#6efa78"/><rect x="451" y="668" width="111" height="19" fill="#37e141"/><rect x="562" y="668" width="56" height="19" fill="#96fab4"/><rect x="618" y="668" width="18" height="19" fill="#fffaaa"/><rect x="636" y="668" width="55" height="19" fill="#37e141"/><rect x="341" y="687" width="166" height="18" fill="#37e141"/><rect x="507" y="687" width="37" height="18" fill="#6efa78"/><rect x="544" y="687" width="37" height="18" fill="#37e141"/><rect x="581" y="687" width="37" height="18" fill="#96fab4"/><rect x="322" y="705" width="185" height="19" fill="#37e141"/><rect x="507" y="705" width="55" height="19" fill="#6efa78"/><rect x="562" y="705" width="19" height="19" fill="#37e141"/><rect x="304" y="724" width="111" height="18" fill="#37e141"/><rect x="415" y="724" width="18" height="18" fill="#6efa78"/><rect x="433" y="724" width="55" height="18" fill="#37e141"/><rect x="488" y="724" width="74" height="18" fill="#6efa78"/><rect x="304" y="742" width="111" height="19" fill="#37e141"/><rect x="415" y="742" width="36" height="19" fill="#6efa78"/><rect x="451" y="742" width="37" height="19" fill="#00c30a"/><rect x="488" y="742" width="74" height="19" fill="#6efa78"/><rect x="304" y="761" width="184" height="18" fill="#37e141"/><rect x="488" y="761" width="37" height="18" fill="#96fab4"/><rect x="525" y="761" width="37" height="18" fill="#6efa78"/><rect x="304" y="779" width="92" height="18" fill="#37e141"/><rect x="396" y="779" width="37" height="18" fill="#00c30a"/><rect x="433" y="779" width="74" height="18" fill="#37e141"/><rect x="507" y="779" width="37" height="18" fill="#96fab4"/><rect x="544" y="779" width="18" height="18" fill="#6efa78"/><rect x="304" y="797" width="74" height="19" fill="#37e141"/><rect x="378" y="797" width="110" height="19" fill="#00c30a"/><rect x="488" y="797" width="37" height="19" fill="#37e141"/><rect x="525" y="797" width="19" height="19" fill="#96fab4"/><rect x="341" y="816" width="18" height="18" fill="#37e141"/><rect x="359" y="816" width="56" height="18" fill="#00c30a"/><rect x="415" y="816" width="55" height="18" fill="#6efa78"/><rect x="470" y="816" width="37" height="18" fill="#00c30a"/><rect x="507" y="816" width="18" height="18" fill="#37e141"/><rect x="359" y="834" width="37" height="19" fill="#00c30a"/><rect x="396" y="834" width="92" height="19" fill="#c8ffe6"/><rect x="488" y="834" width="19" height="19" fill="#00c30a"/><rect x="396" y="853" width="92" height="18" fill="#c8ffe6"/><rect x="396" y="871" width="92" height="19" fill="#c8ffe6"/></g><g fill="none" stroke="#000" stroke-width="1.1" stroke-linejoin="round" shape-rendering="crispEdges"><polyline points="60.2,349.2 77.5,356 100,362 121,366.5 137.5,375.5"/><polyline points="250.8,176 256.8,178.2 260.5,179.8 263.5,185 265,191.8 268,200 266.5,203 267.2,207.5 265.8,213.5 267.2,219.5 268.8,225.5 269.5,230"/><polyline points="267,200 266.2,206 265.5,212 267,218 269.2,222.5 270,227.8 267,230 272.2,233.8 277.5,239.8 282.8,242 284.2,237.5 284.2,229.2 287.2,227 291.8,225.5 296.2,227 298.5,231.5 302.2,232.2 306,229.2 307.5,227.8 305.2,224.8 307.5,218 312,212.8 333.8,212.8"/><polyline points="332.2,193.2 333,200 333.8,206 333.8,212.8 334.5,219.5 336.8,224.8 337.5,228.5 342,232.2 343.5,236 348,239.8 354,243.5 360,247.2"/><polyline points="410.2,170.5 411,176.5 411.8,181.8 416.2,184 421.5,187.8 427.5,190 432.8,193 435,199 438.8,203.5 440.2,209.5 443.2,215.5 447,220 450,224.5"/><polyline points="497.8,203.5 492.5,206.5 489.5,212.5 485,215.5 479.8,220 476,223 472.2,227.5 468.5,233.5 462.5,239.5 456.5,243.2 451.2,244.8 447.5,245.5 448.2,246.7 456.5,246.7 464,242.8 470,238.3 476,230.8 479,226.3 483.5,221.8 488,218.1 494,214.3 500,212.1 504.5,211"/><polyline points="440,203.5 441.5,211 445.2,218.5 449,224.5 452,232 455,236.5 461,238 467,233.5 470.8,228.2"/><polyline points="483.5,222.2 485,229 482.8,236.5 483.5,242.5 485,247 489.5,251.5 495.5,249.2 501.5,247.8 506,249.2 512,246.2 516.5,245.5 519.5,241.8 521.8,236.5 523.2,230.5 527.8,222.2"/><polyline points="518,245.5 513.5,250 510.5,256 507.5,262.8"/><polyline points="515,250 511.2,257.5 508.2,262.8"/><polyline points="533.8,229.3 530,233.5 527,238 524,242.5 531.5,243.2"/><polyline points="472.2,247 470,253 471.5,259"/><polyline points="474.5,247 479,253 480.5,260.5"/><polyline points="480.5,250 483.5,256"/><polyline points="489.5,205 491.8,209.5 497,208 496.2,204.2"/><polyline points="500,211.8 503,217 509,216.2"/><polyline points="560,266.5 558.5,272.5 554,278.5"/><polyline points="601,261 599.5,265.5 595,270 593.5,276 598,271.5 602.5,267.8"/><polyline points="569.5,237 568,244.5 566.5,253.5 563.5,261"/><polyline points="648.2,267.8 646,273 640,277.5 634,282 631,288 627.2,294 629.5,298.5 628.8,304.5 631,309 628,315 625,319.5 624.2,330"/><polyline points="658,270 655.8,276 657.2,280.5 661,288 662.5,295.5 661.8,301.5 664,307.5 665.5,318 667,330"/><polyline points="731.5,304.8 725.5,307.8 722.5,313 719.5,320.5 715,326.5 709.8,329.5 708.2,334"/><polyline points="708.2,334 713.5,335.5 719.5,334 724,329.5 730,328 734.5,327.7 732.2,332.5 729.2,335.5 728.5,340 733,341.5 737.5,340 742,343 743.5,345.2 746.5,340 747.2,334 750.2,332.5 754,334.8 760,335.5 767.5,336.2 774.2,336.2"/><polyline points="670,351.8 676,352.5 682,351.8 688,352.5 693.2,354.8 697.8,359.2 700.8,361.5 706,357.8 710.5,358.5 715,360.8 719.5,358.5 724,355.5 730,352.5 734.5,351 737.5,353.2 735.2,357 732.2,360.8 733.8,365.2 736.8,368.2 740.5,369 744.2,366 748,362.2 754,360 760,358.5 766,354 772,352.5 777.2,354"/><polyline points="709.3,328.8 706.8,330 706,339 705.2,345 707.5,349.5 706.8,354.8 706,357.8"/><polyline points="724,379.5 727,381.8 733,386.2 739,387.8 745,387 751,384.8 755.5,381.8 761.5,380.2 767.5,381 773.5,379.5"/><polyline points="670,391.5 676,387.8 677.5,383.2 685,379.5 689.5,375 692.5,373.5 698.5,376.5 704.5,378.8 709.8,381 713.5,386.2 715.8,389.2 719.5,384.8 724,379.5"/><polyline points="715.8,389.2 718.8,393 719.5,397.5 722.5,402 721.8,408 722.5,412.5 718,414 715,416.2 716.5,420 721,426 724.8,429 729.2,429 730,427.5"/><polyline points="718.8,392.2 727,396 734.5,399 739.8,404.2 745,407.2 748,409.2"/><polyline points="705.5,456.5 703.2,452 706.2,449 708.5,452 710,455"/><polyline points="699.5,464.8 701.8,462.5 702.2,467 699.5,470"/><polyline points="620,486.5 626,487.7 630.5,490.2 635,492.5 642.5,495.5 648.5,495.8 653,499.2 656.8,502.2 658.2,506.8 663.5,506 668,505.2 674,506.8 680,509.8 683.8,512 684.2,515 680,520.2 677,524.8 676.2,528.5 672.5,530 671,536 673.2,539 677,542.8 677.8,545.8 683,550.2 686.8,552.5 689.3,551.3"/><polyline points="677.8,545.8 671,547.2 665,548 665,550.2 662,551.8 660.5,555.5 662.8,560"/><polyline points="666.5,548.2 662,552 661.2,555 663.5,558 663.5,562.5 659.8,564 663.5,567 664.2,574.5 662,579 659,583.5 656.8,588.8 651.5,589.5 647.8,591.8 647.8,599.2 642.5,603 641,609 638.8,614.2 640.2,617.2"/><polyline points="647.8,599.2 650,603.8 653,606.8 659,608.2 663.5,607.5 665.8,604.5"/><polyline points="640.2,617.2 633.5,619.5 627.5,621.8 625.2,623.2 620,622.5 614,624 608,624.8 603.5,627 599,628.5 594.5,630 590,630.8"/><polyline points="594.5,630 599,632.2 605,633.8 605.8,636.8 602.8,639 600.5,642"/><polyline points="622.2,640.2 622.2,636 625.2,634.5 626.8,636.8 624.5,640.2"/><polyline points="581.5,655 585.2,654.2 586,657.2 582.2,658 581.5,655"/><polyline points="595,646 594.2,642.2 599.5,639.2 604,637.8 605.5,634.8 600.2,634 601.8,640 607,641.5"/><polyline points="553,610 559,611.5 560.5,616 559,620.5 559.8,626.5 562,631 564.2,634.8 565,637.8 571,638.5 576.2,636.2 581.5,634 587.5,631.8 593.5,630.2 599.5,628 605.5,625 610,622.8"/><polyline points="490,639.2 496,639.2 500.5,640.8 504.2,645.2 505,650.5 507.2,656.5 510.2,661.8 511.8,666.2 511,670.8 517,672.2 523,672.2 526,674.5 525.2,678.2 529.8,676 530.5,682 528.2,686.5"/><polyline points="522.2,686.5 527.5,686.5 532,683.5"/><polyline points="525,690 523.5,694.5 524.2,700.5 522.8,706.5 523.5,714 525,718.5 526.5,723 524.2,729"/><polyline points="429,702 435,700.5 441,702 447,703.5 454.5,705 462,707.2 471,708.8 473.2,705 476.2,701.2 483,699.8 486.8,696.8 493.5,696.8 499.5,696 506.2,699.8 511.5,697.5 517.5,696 523.5,694.5"/><polyline points="426,718.5 433.5,717 441,717.8 450,719.2 459,720.8 463.5,723.8 468,725.2 474,728.2 480,733.5 483.8,738 489,741 496.5,741.8 502.5,741.8 503.2,744 500.2,745.5 498,750 498,754.5 495,755.2 495,757.5 498,758.2 501.8,756"/><polyline points="460.5,805.5 461.2,798 466.5,793.5 469.5,790.5 471,786 473.2,780 475.5,775.5 474,771 476.2,774 479.2,776.2 484.5,774.8 486.8,773.2 487.2,777.8 485.2,781.5 481.5,786 478.5,789.8 476.2,793.5 474.8,797.2 471,801 466.5,804"/><polyline points="523.5,722.2 526.8,721.5 527.2,725.2 525,729.8 523.5,727.5"/><polyline points="356,545.2 360.5,546 366.5,543.8 369.5,540 372.5,536.2 377,535.5 381.5,534 386,534 390.5,536.2 395,537.8 399.5,541.5 405.5,542.2 410,540.8"/><polyline points="315.3,450.2 313.5,451.8 309,456.2 306,463 301.5,467.5 300.8,469"/><polyline points="137,375.2 147.5,381.2 158,386.5 170,391.8 180.5,395.5 188,398.2 190.2,399.2"/><polyline points="188,398.2 191,394.8 194.8,391.8 195.5,389.5 200,390.2 204.5,389.5 207.5,392.5 212,390.2 216.5,388 221,388 224,383.5 230,381.2"/><polyline points="332.8,191.2 332.8,198.8 333.8,208.1 334.7,217.5 336.6,225 341.2,230.6 343.1,235.3 348.8,240 354.4,243.8 360.9,247.5 367.5,250.3 372.2,255 375,256.9 379.1,255.9 380.2,259.7 372.2,263.4 367.5,261.6 374.1,256.9"/><polyline points="380.2,259.7 375,273.8"/><polyline points="410.6,180 414.4,183.8 420,185.6 427.5,189.4 433.1,193.1 434.1,198.8 439.7,203.4 440.6,210 444.4,217.5 449.1,225 451.9,231.6 454.7,236.2 459.4,238.1 461.2,240.9 467.8,234.4 469.7,229.7"/><polyline points="374.9,273.8 362.2,300 357.5,309.4 351.9,320.6 346.2,331.9 341.6,339.4 342.5,344.1 346.2,347.8 347.2,350.6 350,354.4 352.8,360 354.7,366.6 356.6,375 361.2,380.6 366.9,385.3 372.5,388.1 380,390.9"/><polyline points="347.2,350.6 345.3,356.2 342.5,360.9 343.4,366.6 341.6,374.1 339.7,376.9 323.8,377.2 305,377.8 285.3,378.4"/><polyline points="230,381 236.6,380.6 237.5,375.9 240.3,374.1 241.2,369.4 245.9,367.5 247.8,364.7 254.4,364.7 262.8,364.7 266.6,369.4 270.3,372.2 274.1,375.9 279.7,377.8 280.6,375.9 284.4,376.9 285.3,378.4"/><polyline points="285.3,378.4 284.4,384.4 285.3,390 284.4,397.5 285.3,405 284.4,412.5 285.3,419.1 295.6,419.1 305.9,419.1 312.5,420.9 314.4,425.6 311.6,430.3 311.6,436.9 314.4,442.5 315.3,450"/><polyline points="380,391.3 391.2,391.9 406.2,392.8 421.2,393.4 434.4,395.1 451.2,396 470,397.1 492.5,397.5"/><polyline points="500,382.9 497.2,387.2 494.4,392.8 492.5,397.5 490.6,404.1 487.8,410.6"/><polyline points="553.4,280 550.6,287.5 545.9,294.1 542.2,299.7 535.6,303.4 528.1,308.1 524.4,311.9 520.6,314.7"/><polyline points="520.6,314.7 526.2,315.6 530,320.3 528.1,326.9 525.3,332.5 520.6,337.2 515,340.9 511.2,344.7 512.2,351.2 509.4,355 513.1,360.6 510.3,368.1 507.5,375.6 503.8,380.3 500,383.1"/><polyline points="520.6,314.7 527.2,311.9 533.8,312.8 540.3,314.7 544.1,319.4 545,328.8 544.1,338.1 542.2,345.6 539.4,349.4 544.1,352.2 547.8,357.8 553.4,362.5 560.9,362.5 561.9,368.1 557.2,371.9 555.3,377.5 551.6,382.2 556.2,386.9 560,392.5 561.9,398.1 564.7,402.8 570.3,405.6 575,406.6"/><polyline points="638.8,280 635,281.9 631.2,287.5 627.5,294.1 629.4,300.6 628.4,306.2 630.3,310.9 625.6,317.5 624.7,324.1 629.4,331.6 628.4,340 620,341.5 612.5,340.9 606.9,341.9 602.2,346.6 593.8,351.2 586.2,355 580.6,357.8 577.8,364.4 576.9,371.9 573.1,378.4 571.2,382.2 574.1,388.8 575,396.2 574.1,403.8 575,406.6"/><polyline points="575,406.6 580.6,409.4 582.5,414.1 588.1,416.9 593.8,415 599.4,412.2 605,411.2 610.6,405.6 614.4,400 613.4,394.4 611.6,390.6 616.2,388.4 623.8,389.7 629.4,391.6 635,390.6 640.6,387.8 646.2,385.9 650,383.1"/><polyline points="650,383.1 654.5,382 661.4,377.5 666,381 668.4,387.9 670,391.5"/><polyline points="667,330 668.4,341.1 671.8,345.8 670.7,355 667.2,366.6 661.4,373.5 656.8,378.1"/><polyline points="671.8,350.4 670,351.75"/><polyline points="575,406.6 571.2,409.4"/><polyline points="486.9,410 485,419.4 484.1,428.8 485.9,438.1 486.9,447.5 488.8,454.1 485.9,461.6 482.2,470 480.3,479.4 478.4,486.9 473.8,491.6 469.1,495.3 466.2,501.9 461.6,507.5 455.9,513.1 451.2,518.8 447.5,524.4 442.8,529.1 440,533.8"/><polyline points="488.8,454.1 489.7,449.4 492.5,446.6 490.6,452.2 496.2,455 503.8,456.9 510.3,458.8 513.1,450.3 515.9,448.4 517.8,453.1 519.7,458.8 524.4,457.8 530,456.9 532.8,459.7 537.5,461.6 541.2,458.8 543.1,460.6 548.8,458.8 556.2,455.9 563.8,454.1 569.4,452.2"/><polyline points="571.2,410 566.6,414.7 563.8,420.3 560.9,425.9 565.6,428.8 567.5,434.4 565.6,440.9 566.6,447.5 569.4,452.2"/><polyline points="569.4,452.2 568.4,458.8 567.5,466.2 566.6,473.8 569.4,479.4 573.1,483.1 571.2,490.6 571.2,496.2 576.9,493.4 582.5,490.6 590,485.9"/><polyline points="590,486 605,486.3 620,486.5"/><polyline points="571.2,496.2 569.4,491.6 563.8,487.8 560.9,492.5 556.2,494.4 554.4,500 553.4,505.6 547.8,511.2 545.9,516.9 545,522.5 549.7,527.2 547.8,533.8 544.1,539.4 547.8,543.1 546.9,549.7 542.2,554.4 535.6,556.2 530,554.4 522.5,556.2 515,555.3 510.3,558.1 507.5,560"/><polyline points="530,502.8 546.9,502.8 547.8,507.5 546.9,512.2 530,512.2 530,502.8"/><polyline points="390,536.6 395.6,538.4 401.2,541.2 408.8,540.3 416.2,539.4 422.8,540.3 427.5,535.6 429.4,534.7 428.4,541.2 425.6,545 424.7,546.9 433.1,548.8 440.6,548.8"/><polyline points="440.6,528.1 438.8,535.6 439.7,541.2 440.6,548.8 443.4,554.4 445.3,560 450.9,561.9 457.5,565.6 465,568.4 472.5,570.3 478.1,572.2 480.9,574.1"/><polyline points="480.9,574.1 483.8,570.3 487.5,567.5 489.4,563.8 493.1,560.9 500.6,560 507.2,558.1 511.9,556.2 517.5,554.4 523.1,555.3 530.6,554.4 540,556.2"/><polyline points="480.9,574.1 479.1,578.8 480,584.4 475.3,588.1 470.6,591.9 467.8,596.6 466.9,602.2 463.1,606.9 461.2,612.5 458.4,617.2 454.7,621.9 450,626.6 444.4,631.2 441.6,634.1 435,636.9 431.2,640.6 429.4,646.2 424.7,650 422.8,657.5 419.1,661.2"/><polyline points="480,584.4 487.5,581.6 493.1,583.4 500.6,584.4 506.2,585.3 510,587.2 511.9,590.9 513.8,588.1 516.6,591.9 519.4,588.1 525,587.2 532.5,586.2 540,585.3"/><polyline points="540,585.3 544,584.6 547.5,588 548.6,597.3 551,604.3 553,610"/><polyline points="441.6,634.1 450,632.8 459.4,632.2 466.9,634.1 474.4,635 481.9,637.8 489.4,638.8"/><polyline points="473.8,222.2 477.5,218.5 482,217 485,219.2 482.8,223.8 478.2,226.8 474.5,226 473.8,222.2"/><polyline points="474.5,227.5 479,226 483.5,223.8 485,227.5 481.2,231.2 476.8,232.8 474.5,227.5"/><polyline points="485,215.5 489.5,212.5 493.2,212.5 491,216.2 486.5,218.5 485,215.5"/><polyline points="489.5,208 494,205.8 497.8,206.5 495.5,210.2 491,211 489.5,208"/><polyline points="472.2,229.8 475.2,228.2 476,232.8 473,235 470.8,232.8 472.2,229.8"/><polyline points="482.8,233.5 485,230.5 486.5,235 484.2,238"/><polyline points="485,228.2 488,227.5"/><polyline points="483.5,235.8 487.2,235"/><polyline points="476,220 480.5,222.2 479.8,225.2"/><polyline points="492.5,204.2 494.8,201.2 497.8,202"/><polyline points="500,212.5 503.8,211 506.8,214 503,216.2 500,212.5"/><polyline points="525.5,239.5 528.5,236.5 530,239.5 527,241.8"/><polyline points="455,242.5 459.5,241.8 462.5,244 458,245.8"/></g><polygon points="118,410 118,390.2 115.8,390.8 104.5,401 88.8,401.3 88,397.2 85,392 70,389.8 75.2,384.2 72.2,380 66.2,374 62.5,366.5 58.8,362 58,357.5 54.2,355.2 58.8,352.2 60.2,349.2 58.3,346.2 59.5,341.8 64.8,338 70.8,336.5 71.5,332.8 69.2,328.2 70.8,323 73.8,319.2 75.2,311.8 81.2,308.8 85,304.2 93.2,299.8 100,297.5 111.2,296 113.5,293 121,291.8 124.8,296 128.5,295.2 130.8,290 132.2,281 134.3,267.1 136.3,253.2 138.4,245.6 140.5,241.5 139.1,235.2 135.7,229.7 135.7,225.5 132.2,223.4 127.3,219.9 127.3,206.1 132.9,204 137,202.6 141.2,204.7 144,203.3 143.3,198.4 139.8,196.4 132.2,195.7 131.5,185.3 135.7,183.6 160.6,183.6 161.3,179.7 163.4,180 166.9,183.9 175.2,176.2 178.7,177.6 182.8,185.3 183.5,193.6 187,193.6 196,201.9 202.2,201.2 206.4,199.1 210.6,199.8 211.3,204 214.7,199.1 218.9,195 224.4,193.6 230,189.4 230.5,188.8 237.2,187.2 238.8,180.5 244.8,178.2 250.8,176 251.5,171.5 238.8,170.8 239.5,166.2 236.5,160.2 235,153.5 234.2,149 228.2,142.2 224.5,139.2 224.5,137.8 227.5,137.8 230.5,140 237.2,140.8 238.8,143 248.5,143.8 252.2,144.5 256,149.3 260.5,150.2 262.8,143.8 266.5,140.8 273.2,139.2 280,137.8 284.5,137 287.5,133.2 295,131.8 301.8,123.5 300.2,120.2 306.2,120.5 310.8,119.8 313.8,122.8 312.2,128 310.8,132.5 319,134 319.8,140 322,143 319.8,147.5 316,151.2 313.8,156.5 313,164 314.5,170 318.2,176 319,182 325,188 331.8,191.8 332.5,193.2 330,191.8 332.7,191.2 333.3,194.2 336.8,192.7 340.5,190 344.2,187 349.5,186.7 354,183.2 359.2,182.8 361.5,179.5 366,178.8 368.2,181 372.8,180.7 378,179.5 382.5,180.7 386.2,181.8 387.8,177.7 385.2,175 385.5,172 387.8,169.8 391.5,171.7 396,170.8 402,169.3 406.5,169.8 410.2,170.5 411.8,173.5 415.5,175 420,176.5 420,177.8 423,175.5 426.8,172.5 430.5,174 435,172.8 438.8,174.8 442.5,176.2 447,172.5 450.8,168 453.8,161.2 455.2,156 459.8,149.2 464.2,142.5 468,140.2 468.3,135.4 471.8,137.7 475.5,141.8 477.8,144.8 478.2,153 480,160.5 483,166.5 485.2,173.2 486.8,177.8 488.2,180 493.5,182.2 498,184.5 499.5,187.5 500,190 498.5,196 495.5,203.5 499.2,209.5 504.5,210.2 507.5,214.8 512,217.8 519.5,220 527.8,222.2 528.5,226.8 533.8,229.3 539,227.5 545,227.5 551,229.3 550,230.2 556,229.5 560.5,233.2 565,234 569.5,237 574,237.8 577.8,239.2 582.2,241.5 583.8,247.5 587.5,243.8 590.5,239.2 593.5,244.5 596.5,246.8 598,252 600.2,255.8 601,261 602.5,267.8 607,265.5 607.8,261.8 612.2,259.5 614.5,258 616.8,261 622,261 628,261.8 634,265.5 640,266.7 647.5,267 653.5,269.2 658,270 664,269.2 670,268.5 670,268.8 674.5,267.2 682,268.8 689.5,274.8 700,278.5 707.5,284.5 715,289.8 721,295.8 727.8,301.8 731.5,302.5 733.8,306.2 740.5,307.8 745,310 751,310.8 756.2,309.7 764.5,310 768.2,313.8 770.5,320.5 772.8,328 774.2,335.5 776.5,337.5 778,345 777.2,354 777.7,363 775.8,372 773.5,379.5 769,387 763,394.5 757,401.2 751,406.5 748,409.5 742,414 737.5,420 733,426 729.2,432 725.5,439.5 725,440 720.5,446 716,452.8 711.5,455 708.5,454.2 705.5,456.5 701.8,461 699.5,464.8 698.8,470 701,476 700.2,482 700.2,491 701.8,500 702.5,507.5 701.8,515 699.5,524 697.7,533 697.2,539 698,540 697.2,543.8 693.5,547.5 689,552.8 687.5,558 687.5,567 686.8,574.5 683,580.5 680,585 677,591.8 674,595.5 669.5,600 666.5,604.5 665,609 662.8,613.5 663.5,618 664.2,621.8 660.5,624 656,625.5 651.5,627.8 648.5,631.5 645.5,634.5 645.5,639 641,639.8 635,639.8 627.5,640.5 621.5,641.2 615.5,642 608,642.8 610,642.2 604,643.8 600.2,645.2 595,646 592,649 586,652 581.5,654.2 577,655 571.8,655.8 566.5,658 562,660.2 557.5,663.2 553,666.2 548.5,670 544,673 539.5,676 535,679.8 532,683.5 528.2,687.2 525.2,691.8 523,695.5 523.8,700 522.2,706 523,712 523.8,718 523,724 523.8,730 523.6,730 523.5,735 520.5,741 516,745.5 510,750 505.5,754.5 501,759.8 497.2,765 495,771.8 492,778.5 487.5,784.5 483,790.5 478.5,795 474,799.5 468,803.2 463.5,806.2 460.5,810 460,808.8 456.2,812.5 452.5,817 451.8,823 448,828.2 443.5,832 439,835.8 435.2,839.5 433,838 432.7,827.5 436,823.8 439.8,820 436,817.8 431.5,814.8 430,810.2 426.2,805.8 420.2,803.5 416.5,800.5 413.5,796.8 407.5,795.2 401.5,793 398.5,788.5 395.5,785.5 391.8,787.8 387.2,790 386.5,786.2 383.5,781.8 377.5,776.5 371.5,772 367,771.2 364,774.2 358.8,775 357.2,773.5 362.5,770.5 363.2,766.8 368.5,764.5 372.2,760 375.2,754.8 379.8,751 382,746.5 386.5,742.8 389.5,739.8 392.5,739 391.8,736.8 393.5,736.2 398,732.5 402.5,730.2 407,728 408.5,724.2 414.5,723.5 420.5,720.5 425,717.5 428.8,713.8 428,707 430.2,701.8 428,696.5 427.2,690.5 424.2,688.2 421.2,686.8 417.5,689 413.8,688.2 413,685.2 415.2,680 416,674 417.5,668 419,665 417.5,662 418.2,659 416,656.8 412.2,655.7 408.5,657.5 404,659 398.8,658.7 397.2,653.8 395.8,648.5 395,642.5 393.5,636.5 394.2,634.2 391.2,629 387.5,626.8 383,626 379.2,623.8 377,625.2 372.5,626.8 366.5,626 359,625.2 353,623.8 350,623.8 350.8,623.2 351.2,618 350.8,613.5 353,608.2 353.8,603 351.5,598.5 349.2,594 347.8,588.8 352.2,585.8 347.8,580.5 350,575.2 353,570 355.2,565.5 356,559.5 358.2,553.5 357.5,549 356,544.5 354.5,540 350.8,538.5 347,536.2 343.2,534 342.5,528 341.8,522.8 344,517.5 341.8,516.3 335,516.3 327.5,516.8 320,516.3 311,516 312,515.8 310.5,509.5 309,503.5 306,498.2 302.2,495.2 308.2,494.5 308.2,487 306,481 304.5,476.5 305.2,472 301.5,469 297,466.8 291.8,465.7 285,466 279,466 276,461.5 273,458.5 268.5,457.8 262.5,455.5 258,452.5 255,449.5 249,448.8 244.5,447.2 240,448 235.5,446.5 231,445 228.8,441.2 230,442 225.5,439 221,436 218,431.5 216.5,427 214.2,421 213.5,415 212.8,409 215,404.5 215.8,400 213.5,395.5 209,396.7 203,397 197,397.8 191,398.8 188,401.5 183.5,404.5 177.5,407.5 171.5,410.5 170,414.2 164,414.2 161.8,418 156.5,420.2 152.8,421 147.5,418 140,418.3 132.5,417.7 128,418.8 123.5,420.2 118.2,419.2 116.8,418" fill="none" stroke="#000" stroke-width="1.2" stroke-linejoin="round" shape-rendering="crispEdges"/><rect x="36.25" y="105" width="755.75" height="757" fill="none" stroke="#000" stroke-width="1.7"/><path d="M36.25 862V869.5M31.5 124.4H36M128.52 862V869.5M31.5 216.6H36M220.79 862V869.5M31.5 308.8H36M313.06 862V869.5M31.5 401H36M405.33 862V869.5M31.5 493.2H36M497.6 862V869.5M31.5 585.4H36M589.87 862V869.5M31.5 677.6H36M682.14 862V869.5M31.5 769.8H36M774.41 862V869.5M31.5 862H36" stroke="#000" stroke-width="1" fill="none" shape-rendering="crispEdges"/><g font-family="'Liberation Serif',serif" fill="#000"><text x="36.25" y="893.8" font-size="29" textLength="27" lengthAdjust="spacingAndGlyphs" text-anchor="middle" font-weight="normal" >75W</text><text x="128.52" y="893.8" font-size="29" textLength="27" lengthAdjust="spacingAndGlyphs" text-anchor="middle" font-weight="normal" >70W</text><text x="220.79" y="893.8" font-size="29" textLength="27" lengthAdjust="spacingAndGlyphs" text-anchor="middle" font-weight="normal" >65W</text><text x="313.06" y="893.8" font-size="29" textLength="27" lengthAdjust="spacingAndGlyphs" text-anchor="middle" font-weight="normal" >60W</text><text x="405.33" y="893.8" font-size="29" textLength="27" lengthAdjust="spacingAndGlyphs" text-anchor="middle" font-weight="normal" >55W</text><text x="497.6" y="893.8" font-size="29" textLength="27" lengthAdjust="spacingAndGlyphs" text-anchor="middle" font-weight="normal" >50W</text><text x="589.87" y="893.8" font-size="29" textLength="27" lengthAdjust="spacingAndGlyphs" text-anchor="middle" font-weight="normal" >45W</text><text x="682.14" y="893.8" font-size="29" textLength="27" lengthAdjust="spacingAndGlyphs" text-anchor="middle" font-weight="normal" >40W</text><text x="774.41" y="893.8" font-size="29" textLength="27" lengthAdjust="spacingAndGlyphs" text-anchor="middle" font-weight="normal" >35W</text><text x="27.8" y="133.9" font-size="29" textLength="18.3" lengthAdjust="spacingAndGlyphs" text-anchor="end" font-weight="normal" >5N</text><text x="27.8" y="226.1" font-size="29" textLength="20" lengthAdjust="spacingAndGlyphs" text-anchor="end" font-weight="normal" >EQ</text><text x="27.8" y="318.3" font-size="29" textLength="18.3" lengthAdjust="spacingAndGlyphs" text-anchor="end" font-weight="normal" >5S</text><text x="27.8" y="410.5" font-size="29" textLength="26" lengthAdjust="spacingAndGlyphs" text-anchor="end" font-weight="normal" >10S</text><text x="27.8" y="502.7" font-size="29" textLength="26" lengthAdjust="spacingAndGlyphs" text-anchor="end" font-weight="normal" >15S</text><text x="27.8" y="594.9" font-size="29" textLength="26" lengthAdjust="spacingAndGlyphs" text-anchor="end" font-weight="normal" >20S</text><text x="27.8" y="687.1" font-size="29" textLength="26" lengthAdjust="spacingAndGlyphs" text-anchor="end" font-weight="normal" >25S</text><text x="27.8" y="779.3" font-size="29" textLength="26" lengthAdjust="spacingAndGlyphs" text-anchor="end" font-weight="normal" >30S</text><text x="27.8" y="871.5" font-size="29" textLength="26" lengthAdjust="spacingAndGlyphs" text-anchor="end" font-weight="normal" >35S</text><text y="30.5" font-size="27.5" stroke="#000" stroke-width="0.85" stroke-linejoin="round"><tspan x="143" textLength="83.5" lengthAdjust="spacingAndGlyphs">PREVISÃO</tspan> <tspan x="238.75" textLength="141.25" lengthAdjust="spacingAndGlyphs">PROBABILÍSTICA</tspan> <tspan x="390.5" textLength="25.75" lengthAdjust="spacingAndGlyphs">EM</tspan> <tspan x="425" textLength="58.5" lengthAdjust="spacingAndGlyphs">TERCIS</tspan><tspan x="497.5" textLength="13.5" lengthAdjust="spacingAndGlyphs">–</tspan><tspan x="522" textLength="125" lengthAdjust="spacingAndGlyphs">PRECIPITAÇÃO</tspan></text><text y="62.5" font-size="27.5" stroke="#000" stroke-width="0.85" stroke-linejoin="round"><tspan x="265" textLength="115" lengthAdjust="spacingAndGlyphs">ATUALIZAÇÃO</tspan><tspan x="396.25" textLength="13.75" lengthAdjust="spacingAndGlyphs">–</tspan><tspan x="415" textLength="111" lengthAdjust="spacingAndGlyphs">JULHO/2019</tspan></text><text y="93" font-size="27.5" stroke="#000" stroke-width="0.85" stroke-linejoin="round"><tspan x="167.5" textLength="57.5" lengthAdjust="spacingAndGlyphs">VÁLIDO</tspan> <tspan x="238.75" textLength="41.25" lengthAdjust="spacingAndGlyphs">PARA</tspan> <tspan x="292.5" textLength="68.5" lengthAdjust="spacingAndGlyphs">AGOSTO</tspan><tspan x="364" textLength="11" lengthAdjust="spacingAndGlyphs">–</tspan><tspan x="376" textLength="96.5" lengthAdjust="spacingAndGlyphs">SETEMBRO</tspan><tspan x="474" textLength="12" lengthAdjust="spacingAndGlyphs">–</tspan><tspan x="487.5" textLength="136.25" lengthAdjust="spacingAndGlyphs">OUTUBRO/2019</tspan></text><text y="932.4" font-size="23.4" ><tspan x="79.1" textLength="108.5" lengthAdjust="spacingAndGlyphs">Probabilidade</tspan> <tspan x="197.9" textLength="22.9" lengthAdjust="spacingAndGlyphs">(%)</tspan> <tspan x="231.7" textLength="19.2" lengthAdjust="spacingAndGlyphs">da</tspan> <tspan x="259.8" textLength="80.5" lengthAdjust="spacingAndGlyphs">Categoria</tspan> <tspan x="350.6" textLength="33.4" lengthAdjust="spacingAndGlyphs">mais</tspan> <tspan x="390.5" textLength="75" lengthAdjust="spacingAndGlyphs">Provável,</tspan> <tspan x="473.6" textLength="162.9" lengthAdjust="spacingAndGlyphs">desconsiderando–se</tspan> <tspan x="647.5" textLength="8.5" lengthAdjust="spacingAndGlyphs">a</tspan> <tspan x="664.4" textLength="56.1" lengthAdjust="spacingAndGlyphs">Normal</tspan></text><text y="974.5" font-size="27.5" ><tspan x="206.1" textLength="58.4" lengthAdjust="spacingAndGlyphs">Abaixo</tspan> <tspan x="278.4" textLength="18.8" lengthAdjust="spacingAndGlyphs">da</tspan> <tspan x="311" textLength="66" lengthAdjust="spacingAndGlyphs">Normal</tspan></text><text y="974.5" font-size="27.5" ><tspan x="463.4" textLength="52.6" lengthAdjust="spacingAndGlyphs">Acima</tspan> <tspan x="530.8" textLength="20.2" lengthAdjust="spacingAndGlyphs">da</tspan> <tspan x="562.4" textLength="65.1" lengthAdjust="spacingAndGlyphs">Normal</tspan></text><g shape-rendering="crispEdges"><rect x="181.1" y="985" width="36.56" height="25" fill="#e11400" stroke="#000" stroke-width="1"/><rect x="217.66" y="985" width="36.56" height="25" fill="#ff3200" stroke="#000" stroke-width="1"/><rect x="254.22" y="985" width="36.56" height="25" fill="#ffa000" stroke="#000" stroke-width="1"/><rect x="290.78" y="985" width="36.56" height="25" fill="#ffc03c" stroke="#000" stroke-width="1"/><rect x="327.34" y="985" width="36.56" height="25" fill="#fffaaa" stroke="#000" stroke-width="1"/><rect x="363.9" y="985" width="36.56" height="25" fill="#e1e1e1" stroke="#000" stroke-width="1"/><text x="217.66" y="1034" font-size="21.6" textLength="17" lengthAdjust="spacingAndGlyphs" text-anchor="middle" font-weight="normal" >60</text><text x="254.22" y="1034" font-size="21.6" textLength="17" lengthAdjust="spacingAndGlyphs" text-anchor="middle" font-weight="normal" >50</text><text x="290.78" y="1034" font-size="21.6" textLength="17" lengthAdjust="spacingAndGlyphs" text-anchor="middle" font-weight="normal" >45</text><text x="327.34" y="1034" font-size="21.6" textLength="17" lengthAdjust="spacingAndGlyphs" text-anchor="middle" font-weight="normal" >40</text><text x="363.9" y="1034" font-size="21.6" textLength="17" lengthAdjust="spacingAndGlyphs" text-anchor="middle" font-weight="normal" >35</text><rect x="436.2" y="985" width="36.56" height="25" fill="#e1e1e1" stroke="#000" stroke-width="1"/><rect x="472.76" y="985" width="36.56" height="25" fill="#c8ffe6" stroke="#000" stroke-width="1"/><rect x="509.32" y="985" width="36.56" height="25" fill="#96fab4" stroke="#000" stroke-width="1"/><rect x="545.88" y="985" width="36.56" height="25" fill="#6efa78" stroke="#000" stroke-width="1"/><rect x="582.44" y="985" width="36.56" height="25" fill="#37e141" stroke="#000" stroke-width="1"/><rect x="619" y="985" width="36.56" height="25" fill="#00c30a" stroke="#000" stroke-width="1"/><text x="472.76" y="1034" font-size="21.6" textLength="17" lengthAdjust="spacingAndGlyphs" text-anchor="middle" font-weight="normal" >35</text><text x="509.32" y="1034" font-size="21.6" textLength="17" lengthAdjust="spacingAndGlyphs" text-anchor="middle" font-weight="normal" >40</text><text x="545.88" y="1034" font-size="21.6" textLength="17" lengthAdjust="spacingAndGlyphs" text-anchor="middle" font-weight="normal" >45</text><text x="582.44" y="1034" font-size="21.6" textLength="17" lengthAdjust="spacingAndGlyphs" text-anchor="middle" font-weight="normal" >50</text><text x="619" y="1034" font-size="21.6" textLength="17" lengthAdjust="spacingAndGlyphs" text-anchor="middle" font-weight="normal" >60</text></g></g><g><rect x="730" y="107.2" width="60" height="53.5" fill="#2e3192"/><path d="M771.5 119.9L772.5 111.0L773.5 119.9ZM773.5 119.9L776.5 115.3L775.4 120.7ZM775.4 120.7L782.4 115.1L776.8 122.1ZM776.8 122.1L782.2 121.0L777.6 124.0ZM777.6 124.0L786.5 125.0L777.6 126.0ZM777.6 126.0L782.2 129.0L776.8 127.9ZM776.8 127.9L782.4 134.9L775.4 129.3ZM775.4 129.3L776.5 134.7L773.5 130.1ZM773.5 130.1L772.5 139.0L771.5 130.1ZM771.5 130.1L768.5 134.7L769.6 129.3ZM769.6 129.3L762.6 134.9L768.2 127.9ZM768.2 127.9L762.8 129.0L767.4 126.0ZM767.4 126.0L758.5 125.0L767.4 124.0ZM767.4 124.0L762.8 121.0L768.2 122.1ZM768.2 122.1L762.6 115.1L769.6 120.7ZM769.6 120.7L768.5 115.3L771.5 119.9Z" fill="#ffde17"/><circle cx="772.5" cy="125" r="5.6" fill="#ffde17"/><path d="M735 138A3.2 3.2 0 0 1 734 133A3.2 3.2 0 0 1 735 128A3.1 3.1 0 0 1 738.5 124.5A3.4 3.4 0 0 1 743 121.5A3.2 3.2 0 0 1 748 120.5A2.2 2.2 0 0 1 751 121.5A2.4 2.4 0 0 1 754.5 119.8A2.8 2.8 0 0 1 759 120A2.2 2.2 0 0 1 762 121.5A2.4 2.4 0 0 1 764.5 124.5A2.2 2.2 0 0 1 767 127A2.9 2.9 0 0 1 771 129.5A2.8 2.8 0 0 1 775 131.5A3.1 3.1 0 0 1 779 134.5A2.9 2.9 0 0 1 782 138A2.6 2.6 0 0 1 783 142A2.5 2.5 0 0 1 781 145.5A3.2 3.2 0 0 1 776 147A3.2 3.2 0 0 1 771 145.5A2.6 2.6 0 0 1 767 144A2.6 2.6 0 0 1 763 145.5A3.2 3.2 0 0 1 758 144.5A2.6 2.6 0 0 1 754 143A3.2 3.2 0 0 1 749 144.5A3.2 3.2 0 0 1 744 143.5A2.6 2.6 0 0 1 740 142A2.4 2.4 0 0 1 736.5 140.5A2.2 2.2 0 0 1 735 138Z" fill="#fff" stroke="#8fd3f4" stroke-width="0.7"/><path d="M742 127q2-3 6-3M744 133q3 4 8 3M756 124q-3 2-2 5M763 129q4 1 5 4M760 138q4 3 8 1M772 134q3 0 5 3" fill="none" stroke="#29abe2" stroke-width="0.9" stroke-linecap="round"/><text x="760.7" y="158.5" font-family="'Liberation Sans',sans-serif" font-weight="bold" font-size="11.7" fill="#fff" text-anchor="middle" textLength="40.5" lengthAdjust="spacingAndGlyphs">INMET</text></g></svg></body></html>
